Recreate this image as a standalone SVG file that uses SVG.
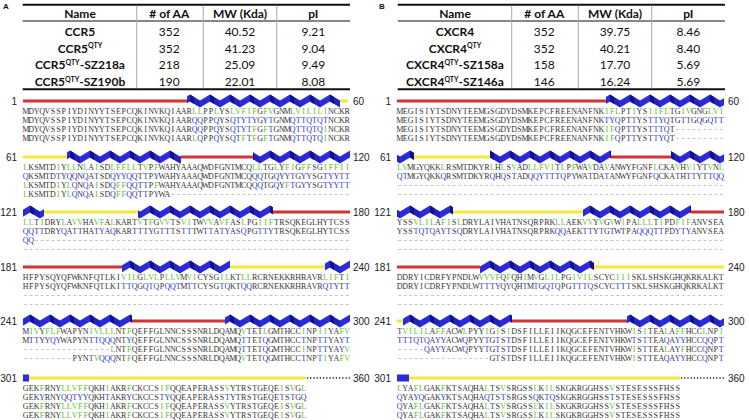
<svg xmlns="http://www.w3.org/2000/svg" width="749" height="420" viewBox="0 0 749 420">
<defs>
<style>
.tb{font-family:Lato,"Liberation Sans",sans-serif;font-size:12px;fill:#111;text-anchor:middle}
.bd{font-weight:bold}
.lab{font-family:"Liberation Sans",Arial,sans-serif;font-weight:bold;font-size:8px;fill:#111}
.num{font-family:"Liberation Sans",Arial,sans-serif;font-size:10px;fill:#222}
.ne{text-anchor:end}
.seq{font-family:"Liberation Serif","Times New Roman",serif;font-size:8px;fill:#333;text-anchor:middle}
.g{fill:#5cbf2a}
.b{fill:#3434c8}
.d{fill:#999}
.red{fill:#cf3434}
.yel{fill:#f3e936}
.hx{fill:url(#hx)}
.hb{fill:#2b2bd9}
.dl{stroke:#999;stroke-width:0.6;stroke-dasharray:2.7 2.75}
.dot{stroke:#111;stroke-width:1.5;stroke-dasharray:1.2 2}
.thick{stroke:#111;stroke-width:2}
.thin{stroke:#111;stroke-width:1}
.vs{stroke:#aaa;stroke-width:1}
</style>
<pattern id="hx" patternUnits="userSpaceOnUse" x="0" y="-7" width="20" height="14">
<polygon points="0,13.5 0,6.5 10,0.5 10,7.5" fill="#2b2bdc"/>
<polygon points="10,0.5 20,6.5 20,13.5 10,7.5" fill="#2222c0"/>
<polygon points="10,0.5 14,2.9 14,9.9 10,7.5" fill="#10108c"/>
</pattern>
</defs>
<rect width="749" height="420" fill="#fff"/>

<g id="tableA">
<text class="lab" x="3" y="8.5">A</text>
<line class="thick" x1="22.7" y1="4.7" x2="350" y2="4.7"/>
<line class="thin" x1="22.7" y1="21" x2="350" y2="21"/>
<line class="thick" x1="22.7" y1="89.3" x2="350" y2="89.3"/>
<line class="vs" x1="136.7" y1="5.7" x2="136.7" y2="88.3"/>
<line class="vs" x1="203.3" y1="5.7" x2="203.3" y2="88.3"/>
<line class="vs" x1="276.7" y1="5.7" x2="276.7" y2="88.3"/>
<text class="tb bd" x="80" y="18.3">Name</text>
<text class="tb bd" x="169.3" y="18.3"># of AA</text>
<text class="tb bd" x="240" y="18.3">MW (Kda)</text>
<text class="tb bd" x="313.3" y="18.3">pI</text>
<text class="tb bd" x="80" y="36">CCR5</text>
<text class="tb" x="169.3" y="36">352</text>
<text class="tb" x="240" y="36">40.52</text>
<text class="tb" x="313.3" y="36">9.21</text>
<text class="tb bd" x="80" y="52.7">CCR5<tspan font-size="7" dy="-4.5">QTY</tspan></text>
<text class="tb" x="169.3" y="52.7">352</text>
<text class="tb" x="240" y="52.7">41.23</text>
<text class="tb" x="313.3" y="52.7">9.04</text>
<text class="tb bd" x="80" y="69.3">CCR5<tspan font-size="7" dy="-4.5">QTY</tspan><tspan dy="4.5">-SZ218a</tspan></text>
<text class="tb" x="169.3" y="69.3">218</text>
<text class="tb" x="240" y="69.3">25.09</text>
<text class="tb" x="313.3" y="69.3">9.49</text>
<text class="tb bd" x="80" y="86">CCR5<tspan font-size="7" dy="-4.5">QTY</tspan><tspan dy="4.5">-SZ190b</tspan></text>
<text class="tb" x="169.3" y="86">190</text>
<text class="tb" x="240" y="86">22.01</text>
<text class="tb" x="313.3" y="86">8.08</text>
</g>

<g id="tableB">
<text class="lab" x="379" y="8.5">B</text>
<line class="thick" x1="397.7" y1="4.7" x2="725" y2="4.7"/>
<line class="thin" x1="397.7" y1="21" x2="725" y2="21"/>
<line class="thick" x1="397.7" y1="89.3" x2="725" y2="89.3"/>
<line class="vs" x1="511.7" y1="5.7" x2="511.7" y2="88.3"/>
<line class="vs" x1="578.3" y1="5.7" x2="578.3" y2="88.3"/>
<line class="vs" x1="651.7" y1="5.7" x2="651.7" y2="88.3"/>
<text class="tb bd" x="455" y="18.3">Name</text>
<text class="tb bd" x="544.3" y="18.3"># of AA</text>
<text class="tb bd" x="615" y="18.3">MW (Kda)</text>
<text class="tb bd" x="688.3" y="18.3">pI</text>
<text class="tb bd" x="455" y="36">CXCR4</text>
<text class="tb" x="544.3" y="36">352</text>
<text class="tb" x="615" y="36">39.75</text>
<text class="tb" x="688.3" y="36">8.46</text>
<text class="tb bd" x="455" y="52.7">CXCR4<tspan font-size="7" dy="-4.5">QTY</tspan></text>
<text class="tb" x="544.3" y="52.7">352</text>
<text class="tb" x="615" y="52.7">40.21</text>
<text class="tb" x="688.3" y="52.7">8.40</text>
<text class="tb bd" x="455" y="69.3">CXCR4<tspan font-size="7" dy="-4.5">QTY</tspan><tspan dy="4.5">-SZ158a</tspan></text>
<text class="tb" x="544.3" y="69.3">158</text>
<text class="tb" x="615" y="69.3">17.70</text>
<text class="tb" x="688.3" y="69.3">5.69</text>
<text class="tb bd" x="455" y="86">CXCR4<tspan font-size="7" dy="-4.5">QTY</tspan><tspan dy="4.5">-SZ146a</tspan></text>
<text class="tb" x="544.3" y="86">146</text>
<text class="tb" x="615" y="86">16.24</text>
<text class="tb" x="688.3" y="86">5.69</text>
</g>

<!-- CCR5 alignment -->
<g id="ccr5-1" transform="translate(0,101)">
<rect class="red" x="23" y="-1.5" width="164" height="3"/>
<rect class="hx" x="187" y="-7" width="153" height="14"/>
<rect class="yel" x="340" y="-1.5" width="8" height="3"/>
<text class="num ne" x="17" y="3.6">1</text>
<text class="num" x="353" y="3.6">60</text>
<g class="seq" transform="translate(25.7,0)">
<text y="12.7" x="0 5.45 10.9 16.35 21.8 27.25 32.7 38.15 43.6 49.05 54.5 59.95 65.4 70.85 76.3 81.75 87.2 92.65 98.1 103.55 109 114.45 119.9 125.35 130.8 136.25 141.7 147.15 152.6 158.05 163.5 168.95 174.4 179.85 185.3 190.75 196.2 201.65 207.1 212.55 218 223.45 228.9 234.35 239.8 245.25 250.7 256.15 261.6 267.05 272.5 277.95 283.4 288.85 294.3 299.75 305.2 310.65 316.1 321.55">MDYQVSSPIYDINYYTSEPCQKINVKQIAAR<tspan class="g">LL</tspan>PP<tspan class="g">L</tspan>YS<tspan class="g">LVFIF</tspan>G<tspan class="g">FV</tspan>GNM<tspan class="g">LVILILI</tspan>NCKR</text>
<text y="21.7" x="0 5.45 10.9 16.35 21.8 27.25 32.7 38.15 43.6 49.05 54.5 59.95 65.4 70.85 76.3 81.75 87.2 92.65 98.1 103.55 109 114.45 119.9 125.35 130.8 136.25 141.7 147.15 152.6 158.05 163.5 168.95 174.4 179.85 185.3 190.75 196.2 201.65 207.1 212.55 218 223.45 228.9 234.35 239.8 245.25 250.7 256.15 261.6 267.05 272.5 277.95 283.4 288.85 294.3 299.75 305.2 310.65 316.1 321.55">MDYQVSSPIYDINYYTSEPCQKINVKQIAAR<tspan class="b">QQ</tspan>PP<tspan class="b">Q</tspan>YS<tspan class="b">QTYTY</tspan>G<tspan class="b">YT</tspan>GNM<tspan class="b">QTTQTQT</tspan>NCKR</text>
<text y="30.7" x="0 5.45 10.9 16.35 21.8 27.25 32.7 38.15 43.6 49.05 54.5 59.95 65.4 70.85 76.3 81.75 87.2 92.65 98.1 103.55 109 114.45 119.9 125.35 130.8 136.25 141.7 147.15 152.6 158.05 163.5 168.95 174.4 179.85 185.3 190.75 196.2 201.65 207.1 212.55 218 223.45 228.9 234.35 239.8 245.25 250.7 256.15 261.6 267.05 272.5 277.95 283.4 288.85 294.3 299.75 305.2 310.65 316.1 321.55">MDYQVSSPIYDINYYTSEPCQKINVKQIAAR<tspan class="b">QQ</tspan>PP<tspan class="b">Q</tspan>YS<tspan class="b">QTYT</tspan><tspan class="g">F</tspan>G<tspan class="g">F</tspan><tspan class="b">T</tspan>GNM<tspan class="b">QTTQTQ</tspan><tspan class="g">I</tspan>NCKR</text>
<text y="39.7" x="0 5.45 10.9 16.35 21.8 27.25 32.7 38.15 43.6 49.05 54.5 59.95 65.4 70.85 76.3 81.75 87.2 92.65 98.1 103.55 109 114.45 119.9 125.35 130.8 136.25 141.7 147.15 152.6 158.05 163.5 168.95 174.4 179.85 185.3 190.75 196.2 201.65 207.1 212.55 218 223.45 228.9 234.35 239.8 245.25 250.7 256.15 261.6 267.05 272.5 277.95 283.4 288.85 294.3 299.75 305.2 310.65 316.1 321.55">MDYQVSSPIYDINYYTSEPCQKINVKQIAAR<tspan class="g">L</tspan><tspan class="b">Q</tspan>PP<tspan class="b">Q</tspan>YS<tspan class="b">QT</tspan><tspan class="g">F</tspan><tspan class="b">T</tspan><tspan class="g">F</tspan>G<tspan class="g">F</tspan><tspan class="b">T</tspan>GNM<tspan class="b">QTTQTQ</tspan><tspan class="g">I</tspan>NCKR</text>
</g>
</g>

<g id="ccr5-2" transform="translate(0,157)">
<rect class="yel" x="23" y="-1.5" width="44" height="3"/>
<rect class="hx" x="67" y="-7" width="114" height="14"/>
<rect class="red" x="181" y="-1.5" width="72" height="3"/>
<rect class="hx" x="253" y="-7" width="97" height="14"/>
<text class="num ne" x="17" y="3.6">61</text>
<text class="num" x="353" y="3.6">120</text>
<g class="seq" transform="translate(25.7,0)">
<text y="12.7" x="0 5.45 10.9 16.35 21.8 27.25 32.7 38.15 43.6 49.05 54.5 59.95 65.4 70.85 76.3 81.75 87.2 92.65 98.1 103.55 109 114.45 119.9 125.35 130.8 136.25 141.7 147.15 152.6 158.05 163.5 168.95 174.4 179.85 185.3 190.75 196.2 201.65 207.1 212.55 218 223.45 228.9 234.35 239.8 245.25 250.7 256.15 261.6 267.05 272.5 277.95 283.4 288.85 294.3 299.75 305.2 310.65 316.1 321.55"><tspan class="g">L</tspan>KSMTD<tspan class="g">I</tspan>Y<tspan class="g">LL</tspan>N<tspan class="g">L</tspan>A<tspan class="g">I</tspan>SD<tspan class="g">LFFLL</tspan>T<tspan class="g">V</tspan>P<tspan class="g">F</tspan>WAHYAAAQWDFGNTMCQ<tspan class="g">LL</tspan>TG<tspan class="g">L</tspan>Y<tspan class="g">FI</tspan>G<tspan class="g">FF</tspan>SG<tspan class="g">IFFII</tspan></text>
<text y="21.7" x="0 5.45 10.9 16.35 21.8 27.25 32.7 38.15 43.6 49.05 54.5 59.95 65.4 70.85 76.3 81.75 87.2 92.65 98.1 103.55 109 114.45 119.9 125.35 130.8 136.25 141.7 147.15 152.6 158.05 163.5 168.95 174.4 179.85 185.3 190.75 196.2 201.65 207.1 212.55 218 223.45 228.9 234.35 239.8 245.25 250.7 256.15 261.6 267.05 272.5 277.95 283.4 288.85 294.3 299.75 305.2 310.65 316.1 321.55"><tspan class="b">Q</tspan>KSMTD<tspan class="b">T</tspan>Y<tspan class="b">QQ</tspan>N<tspan class="b">Q</tspan>A<tspan class="b">T</tspan>SD<tspan class="b">QYYQQ</tspan>T<tspan class="b">T</tspan>P<tspan class="b">Y</tspan>WAHYAAAQWDFGNTMCQ<tspan class="b">QQ</tspan>TG<tspan class="b">Q</tspan>Y<tspan class="b">YT</tspan>G<tspan class="b">YY</tspan>SG<tspan class="b">TYYTT</tspan></text>
<text y="30.7" x="0 5.45 10.9 16.35 21.8 27.25 32.7 38.15 43.6 49.05 54.5 59.95 65.4 70.85 76.3 81.75 87.2 92.65 98.1 103.55 109 114.45 119.9 125.35 130.8 136.25 141.7 147.15 152.6 158.05 163.5 168.95 174.4 179.85 185.3 190.75 196.2 201.65 207.1 212.55 218 223.45 228.9 234.35 239.8 245.25 250.7 256.15 261.6 267.05 272.5 277.95 283.4 288.85 294.3 299.75 305.2 310.65 316.1 321.55"><tspan class="g">L</tspan>KSMTD<tspan class="g">I</tspan>Y<tspan class="g">L</tspan><tspan class="b">Q</tspan>N<tspan class="b">Q</tspan>A<tspan class="g">I</tspan>SD<tspan class="b">Q</tspan><tspan class="g">FF</tspan><tspan class="b">QQ</tspan>T<tspan class="b">T</tspan>P<tspan class="g">F</tspan>WAHYAAAQWDFGNTMCQ<tspan class="b">QQ</tspan>TG<tspan class="b">Q</tspan>Y<tspan class="g">F</tspan><tspan class="b">T</tspan>G<tspan class="b">YY</tspan>SG<tspan class="b">TYYTT</tspan></text>
<text y="39.7" x="0 5.45 10.9 16.35 21.8 27.25 32.7 38.15 43.6 49.05 54.5 59.95 65.4 70.85 76.3 81.75 87.2 92.65 98.1 103.55 109 114.45 119.9 125.35 130.8 136.25 141.7 147.15"><tspan class="g">L</tspan>KSMTD<tspan class="g">I</tspan>Y<tspan class="g">L</tspan><tspan class="b">Q</tspan>N<tspan class="b">Q</tspan>A<tspan class="g">I</tspan>SD<tspan class="b">Q</tspan><tspan class="g">FF</tspan><tspan class="b">QQ</tspan>T<tspan class="b">T</tspan>P<tspan class="b">Y</tspan>WA</text>
<line class="dl" x1="145.8" y1="37.5" x2="322.9" y2="37.5"/>
</g>
</g>

<g id="ccr5-3" transform="translate(0,212)">
<rect class="hx" x="23" y="-7" width="21" height="14"/>
<rect class="yel" x="44" y="-1.5" width="94" height="3"/>
<rect class="hx" x="138" y="-7" width="135" height="14"/>
<rect class="red" x="273" y="-1.5" width="77" height="3"/>
<text class="num ne" x="17" y="3.6">121</text>
<text class="num" x="353" y="3.6">180</text>
<g class="seq" transform="translate(25.7,0)">
<text y="12.7" x="0 5.45 10.9 16.35 21.8 27.25 32.7 38.15 43.6 49.05 54.5 59.95 65.4 70.85 76.3 81.75 87.2 92.65 98.1 103.55 109 114.45 119.9 125.35 130.8 136.25 141.7 147.15 152.6 158.05 163.5 168.95 174.4 179.85 185.3 190.75 196.2 201.65 207.1 212.55 218 223.45 228.9 234.35 239.8 245.25 250.7 256.15 261.6 267.05 272.5 277.95 283.4 288.85 294.3 299.75 305.2 310.65 316.1 321.55"><tspan class="g">LL</tspan>T<tspan class="g">I</tspan>DRY<tspan class="g">L</tspan>A<tspan class="g">VV</tspan>HA<tspan class="g">VF</tspan>A<tspan class="g">L</tspan>KART<tspan class="g">V</tspan>T<tspan class="g">F</tspan>G<tspan class="g">VV</tspan>TS<tspan class="g">VI</tspan>TW<tspan class="g">VV</tspan>A<tspan class="g">VF</tspan>AS<tspan class="g">L</tspan>PG<tspan class="g">IIF</tspan>TRSQKEGLHYTCSS</text>
<text y="21.7" x="0 5.45 10.9 16.35 21.8 27.25 32.7 38.15 43.6 49.05 54.5 59.95 65.4 70.85 76.3 81.75 87.2 92.65 98.1 103.55 109 114.45 119.9 125.35 130.8 136.25 141.7 147.15 152.6 158.05 163.5 168.95 174.4 179.85 185.3 190.75 196.2 201.65 207.1 212.55 218 223.45 228.9 234.35 239.8 245.25 250.7 256.15 261.6 267.05 272.5 277.95 283.4 288.85 294.3 299.75 305.2 310.65 316.1 321.55"><tspan class="b">QQ</tspan>T<tspan class="b">T</tspan>DRY<tspan class="b">Q</tspan>A<tspan class="b">TT</tspan>HA<tspan class="b">TY</tspan>A<tspan class="b">Q</tspan>KART<tspan class="b">T</tspan>T<tspan class="b">Y</tspan>G<tspan class="b">TT</tspan>TS<tspan class="b">TT</tspan>TW<tspan class="b">TT</tspan>A<tspan class="b">TY</tspan>AS<tspan class="b">Q</tspan>PG<tspan class="b">TTY</tspan>TRSQKEGLHYTCSS</text>
<text y="30.7" x="0 5.45" class="b">QQ</text>
<line class="dl" x1="9.55" y1="28.5" x2="322.9" y2="28.5"/>
<line class="dl" x1="-1.35" y1="37.5" x2="322.9" y2="37.5"/>
</g>
</g>

<g id="ccr5-4" transform="translate(0,267)">
<rect class="red" x="23" y="-1.5" width="99" height="3"/>
<rect class="hx" x="122" y="-7" width="108" height="14"/>
<rect class="yel" x="230" y="-1.5" width="95" height="3"/>
<rect class="hx" x="325" y="-7" width="25" height="14"/>
<text class="num ne" x="17" y="3.6">181</text>
<text class="num" x="353" y="3.6">240</text>
<g class="seq" transform="translate(25.7,0)">
<text y="12.7" x="0 5.45 10.9 16.35 21.8 27.25 32.7 38.15 43.6 49.05 54.5 59.95 65.4 70.85 76.3 81.75 87.2 92.65 98.1 103.55 109 114.45 119.9 125.35 130.8 136.25 141.7 147.15 152.6 158.05 163.5 168.95 174.4 179.85 185.3 190.75 196.2 201.65 207.1 212.55 218 223.45 228.9 234.35 239.8 245.25 250.7 256.15 261.6 267.05 272.5 277.95 283.4 288.85 294.3 299.75 305.2 310.65 316.1 321.55">HFPYSQYQFWKNFQTLKI<tspan class="g">VIL</tspan>G<tspan class="g">LVL</tspan>P<tspan class="g">LLV</tspan>M<tspan class="g">VI</tspan>CYSG<tspan class="g">IL</tspan>KT<tspan class="g">LL</tspan>RCRNEKKRHRAVR<tspan class="g">LIF</tspan>T<tspan class="g">I</tspan></text>
<text y="21.7" x="0 5.45 10.9 16.35 21.8 27.25 32.7 38.15 43.6 49.05 54.5 59.95 65.4 70.85 76.3 81.75 87.2 92.65 98.1 103.55 109 114.45 119.9 125.35 130.8 136.25 141.7 147.15 152.6 158.05 163.5 168.95 174.4 179.85 185.3 190.75 196.2 201.65 207.1 212.55 218 223.45 228.9 234.35 239.8 245.25 250.7 256.15 261.6 267.05 272.5 277.95 283.4 288.85 294.3 299.75 305.2 310.65 316.1 321.55">HFPYSQYQFWKNFQTLKI<tspan class="b">TTQ</tspan>G<tspan class="b">QTQ</tspan>P<tspan class="b">QQT</tspan>M<tspan class="b">TT</tspan>CYSG<tspan class="b">TQ</tspan>KT<tspan class="b">QQ</tspan>RCRNEKKRHRAVR<tspan class="b">QTY</tspan>T<tspan class="b">T</tspan></text>
<line class="dl" x1="-1.35" y1="28.5" x2="322.9" y2="28.5"/>
<line class="dl" x1="-1.35" y1="37.5" x2="322.9" y2="37.5"/>
</g>
</g>

<g id="ccr5-5" transform="translate(0,321)">
<rect class="hx" x="23" y="-7" width="109" height="14"/>
<rect class="red" x="132" y="-1.5" width="93" height="3"/>
<rect class="hx" x="225" y="-7" width="125" height="14"/>
<text class="num ne" x="17" y="3.6">241</text>
<text class="num" x="353" y="3.6">300</text>
<g class="seq" transform="translate(25.7,0)">
<text y="12.7" x="0 5.45 10.9 16.35 21.8 27.25 32.7 38.15 43.6 49.05 54.5 59.95 65.4 70.85 76.3 81.75 87.2 92.65 98.1 103.55 109 114.45 119.9 125.35 130.8 136.25 141.7 147.15 152.6 158.05 163.5 168.95 174.4 179.85 185.3 190.75 196.2 201.65 207.1 212.55 218 223.45 228.9 234.35 239.8 245.25 250.7 256.15 261.6 267.05 272.5 277.95 283.4 288.85 294.3 299.75 305.2 310.65 316.1 321.55">M<tspan class="g">IV</tspan>Y<tspan class="g">FLF</tspan>WAPYN<tspan class="g">IVLLL</tspan>NT<tspan class="g">F</tspan>QEFFGLNNCSSSNRLDQAMQ<tspan class="g">V</tspan>TET<tspan class="g">L</tspan>GMTHCC<tspan class="g">I</tspan>NP<tspan class="g">II</tspan>YA<tspan class="g">FV</tspan></text>
<text y="21.7" x="0 5.45 10.9 16.35 21.8 27.25 32.7 38.15 43.6 49.05 54.5 59.95 65.4 70.85 76.3 81.75 87.2 92.65 98.1 103.55 109 114.45 119.9 125.35 130.8 136.25 141.7 147.15 152.6 158.05 163.5 168.95 174.4 179.85 185.3 190.75 196.2 201.65 207.1 212.55 218 223.45 228.9 234.35 239.8 245.25 250.7 256.15 261.6 267.05 272.5 277.95 283.4 288.85 294.3 299.75 305.2 310.65 316.1 321.55">M<tspan class="b">TT</tspan>Y<tspan class="b">YQY</tspan>WAPYN<tspan class="b">TTQQQ</tspan>NT<tspan class="b">Y</tspan>QEFFGLNNCSSSNRLDQAMQ<tspan class="b">T</tspan>TET<tspan class="b">Q</tspan>GMTHCC<tspan class="b">T</tspan>NP<tspan class="b">TT</tspan>YA<tspan class="b">YT</tspan></text>
<text y="30.7" x="0 5.45 10.9 16.35 21.8 27.25 32.7 38.15 43.6 49.05 54.5 59.95 65.4 70.85 76.3 81.75 87.2 92.65 98.1 103.55 109 114.45 119.9 125.35 130.8 136.25 141.7 147.15 152.6 158.05 163.5 168.95 174.4 179.85 185.3 190.75 196.2 201.65 207.1 212.55 218 223.45 228.9 234.35 239.8 245.25 250.7 256.15 261.6 267.05 272.5 277.95 283.4 288.85 294.3 299.75 305.2 310.65 316.1 321.55"><tspan class="d">----------------</tspan><tspan class="g">L</tspan>NT<tspan class="g">F</tspan>QEFFGLNNCSSSNRLDQAMQ<tspan class="b">T</tspan>TET<tspan class="b">Q</tspan>GMTHCC<tspan class="g">I</tspan>NP<tspan class="b">TT</tspan>YA<tspan class="b">Y</tspan><tspan class="g">V</tspan></text>
<text y="39.7" x="0 5.45 10.9 16.35 21.8 27.25 32.7 38.15 43.6 49.05 54.5 59.95 65.4 70.85 76.3 81.75 87.2 92.65 98.1 103.55 109 114.45 119.9 125.35 130.8 136.25 141.7 147.15 152.6 158.05 163.5 168.95 174.4 179.85 185.3 190.75 196.2 201.65 207.1 212.55 218 223.45 228.9 234.35 239.8 245.25 250.7 256.15 261.6 267.05 272.5 277.95 283.4 288.85 294.3 299.75 305.2 310.65 316.1 321.55"><tspan class="d">---------</tspan>PYN<tspan class="b">T</tspan><tspan class="g">V</tspan><tspan class="b">QQQ</tspan>NT<tspan class="g">F</tspan>QEFFGLNNCSSSNRLDQAMQ<tspan class="g">V</tspan>TET<tspan class="b">Q</tspan>GMTHCC<tspan class="b">T</tspan>NP<tspan class="b">T</tspan><tspan class="g">I</tspan>YA<tspan class="g">FV</tspan></text>
</g>
</g>

<g id="ccr5-6" transform="translate(0,378)">
<rect class="hb" x="23" y="-3.5" width="6" height="7"/>
<rect class="yel" x="29" y="-1.5" width="277" height="3"/>
<line class="dot" x1="307" y1="0" x2="350" y2="0"/>
<text class="num ne" x="17" y="3.6">301</text>
<text class="num" x="353" y="3.6">360</text>
<g class="seq" transform="translate(25.7,0)">
<text y="12.7" x="0 5.45 10.9 16.35 21.8 27.25 32.7 38.15 43.6 49.05 54.5 59.95 65.4 70.85 76.3 81.75 87.2 92.65 98.1 103.55 109 114.45 119.9 125.35 130.8 136.25 141.7 147.15 152.6 158.05 163.5 168.95 174.4 179.85 185.3 190.75 196.2 201.65 207.1 212.55 218 223.45 228.9 234.35 239.8 245.25 250.7 256.15 261.6 267.05 272.5 277.95 283.4 288.85">GEK<tspan class="g">F</tspan>RNY<tspan class="g">LLVFF</tspan>QKH<tspan class="g">I</tspan>AKR<tspan class="g">F</tspan>CKCCS<tspan class="g">IF</tspan>QQEAPERASS<tspan class="g">V</tspan>YTRSTGEQE<tspan class="g">I</tspan>S<tspan class="g">V</tspan>G<tspan class="g">L</tspan></text>
<text y="21.7" x="0 5.45 10.9 16.35 21.8 27.25 32.7 38.15 43.6 49.05 54.5 59.95 65.4 70.85 76.3 81.75 87.2 92.65 98.1 103.55 109 114.45 119.9 125.35 130.8 136.25 141.7 147.15 152.6 158.05 163.5 168.95 174.4 179.85 185.3 190.75 196.2 201.65 207.1 212.55 218 223.45 228.9 234.35 239.8 245.25 250.7 256.15 261.6 267.05 272.5 277.95 283.4 288.85">GEK<tspan class="b">Y</tspan>RNY<tspan class="b">QQTYY</tspan>QKH<tspan class="b">T</tspan>AKR<tspan class="b">Y</tspan>CKCCS<tspan class="b">TY</tspan>QQEAPERASS<tspan class="b">T</tspan>YTRSTGEQE<tspan class="b">T</tspan>S<tspan class="b">T</tspan>G<tspan class="b">Q</tspan></text>
<text y="30.7" x="0 5.45 10.9 16.35 21.8 27.25 32.7 38.15 43.6 49.05 54.5 59.95 65.4 70.85 76.3 81.75 87.2 92.65 98.1 103.55 109 114.45 119.9 125.35 130.8 136.25 141.7 147.15 152.6 158.05 163.5 168.95 174.4 179.85 185.3 190.75 196.2 201.65 207.1 212.55 218 223.45 228.9 234.35 239.8 245.25 250.7 256.15 261.6 267.05 272.5 277.95 283.4 288.85">GEK<tspan class="g">F</tspan>RNY<tspan class="g">LLVFF</tspan>QKH<tspan class="g">I</tspan>AKR<tspan class="g">F</tspan>CKCCS<tspan class="g">IF</tspan>QQEAPERASS<tspan class="g">V</tspan>YTRSTGEQE<tspan class="g">I</tspan>S<tspan class="g">V</tspan>G<tspan class="g">L</tspan></text>
<text y="39.7" x="0 5.45 10.9 16.35 21.8 27.25 32.7 38.15 43.6 49.05 54.5 59.95 65.4 70.85 76.3 81.75 87.2 92.65 98.1 103.55 109 114.45 119.9 125.35 130.8 136.25 141.7 147.15 152.6 158.05 163.5 168.95 174.4 179.85 185.3 190.75 196.2 201.65 207.1 212.55 218 223.45 228.9 234.35 239.8 245.25 250.7 256.15 261.6 267.05 272.5 277.95 283.4 288.85">GEK<tspan class="g">F</tspan>RNY<tspan class="g">LLVFF</tspan>QKH<tspan class="g">I</tspan>AKR<tspan class="g">F</tspan>CKCCS<tspan class="g">IF</tspan>QQEAPERASS<tspan class="g">V</tspan>YTRSTGEQE<tspan class="g">I</tspan>S<tspan class="g">V</tspan>G<tspan class="g">L</tspan></text>
</g>
</g>

<!-- CXCR4 alignment -->
<g id="cxcr4-1" transform="translate(0,101)">
<rect class="red" x="397" y="-1.5" width="209" height="3"/>
<rect class="hx" x="606" y="-7" width="118" height="14"/>
<text class="num ne" x="391" y="3.6">1</text>
<text class="num" x="728" y="3.6">60</text>
<g class="seq" transform="translate(399.7,0)">
<text y="12.7" x="0 5.45 10.9 16.35 21.8 27.25 32.7 38.15 43.6 49.05 54.5 59.95 65.4 70.85 76.3 81.75 87.2 92.65 98.1 103.55 109 114.45 119.9 125.35 130.8 136.25 141.7 147.15 152.6 158.05 163.5 168.95 174.4 179.85 185.3 190.75 196.2 201.65 207.1 212.55 218 223.45 228.9 234.35 239.8 245.25 250.7 256.15 261.6 267.05 272.5 277.95 283.4 288.85 294.3 299.75 305.2 310.65 316.1 321.55">MEGISIYTSDNYTEEMGSGDYDSMKEPCFREENANFNK<tspan class="g">IFL</tspan>PT<tspan class="g">I</tspan>YS<tspan class="g">IIFL</tspan>TG<tspan class="g">IV</tspan>GNG<tspan class="g">LVI</tspan></text>
<text y="21.7" x="0 5.45 10.9 16.35 21.8 27.25 32.7 38.15 43.6 49.05 54.5 59.95 65.4 70.85 76.3 81.75 87.2 92.65 98.1 103.55 109 114.45 119.9 125.35 130.8 136.25 141.7 147.15 152.6 158.05 163.5 168.95 174.4 179.85 185.3 190.75 196.2 201.65 207.1 212.55 218 223.45 228.9 234.35 239.8 245.25 250.7 256.15 261.6 267.05 272.5 277.95 283.4 288.85 294.3 299.75 305.2 310.65 316.1 321.55">MEGISIYTSDNYTEEMGSGDYDSMKEPCFREENANFNK<tspan class="b">TYQ</tspan>PT<tspan class="b">T</tspan>YS<tspan class="b">TTYQ</tspan>TG<tspan class="b">TT</tspan>G<tspan class="b">Q</tspan>G<tspan class="b">QTT</tspan></text>
<text y="30.7" x="0 5.45 10.9 16.35 21.8 27.25 32.7 38.15 43.6 49.05 54.5 59.95 65.4 70.85 76.3 81.75 87.2 92.65 98.1 103.55 109 114.45 119.9 125.35 130.8 136.25 141.7 147.15 152.6 158.05 163.5 168.95 174.4 179.85 185.3 190.75 196.2 201.65 207.1 212.55 218 223.45 228.9 234.35 239.8 245.25 250.7 256.15 261.6 267.05 272.5 277.95 283.4 288.85 294.3 299.75 305.2 310.65 316.1 321.55">MEGISIYTSDNYTEEMGSGDYDSMKEPCFREENANFNK<tspan class="g">IF</tspan><tspan class="b">Q</tspan>PT<tspan class="b">T</tspan>YS<tspan class="b">TTTQ</tspan>T<tspan class="d">---------</tspan></text>
<text y="39.7" x="0 5.45 10.9 16.35 21.8 27.25 32.7 38.15 43.6 49.05 54.5 59.95 65.4 70.85 76.3 81.75 87.2 92.65 98.1 103.55 109 114.45 119.9 125.35 130.8 136.25 141.7 147.15 152.6 158.05 163.5 168.95 174.4 179.85 185.3 190.75 196.2 201.65 207.1 212.55 218 223.45 228.9 234.35 239.8 245.25 250.7 256.15 261.6 267.05 272.5 277.95 283.4 288.85 294.3 299.75 305.2 310.65 316.1 321.55">MEGISIYTSDNYTEEMGSGDYDSMKEPCFREENANFNK<tspan class="g">IF</tspan><tspan class="b">Q</tspan>PT<tspan class="b">T</tspan>YS<tspan class="b">TTYQ</tspan>T<tspan class="d">---------</tspan></text>
</g>
</g>

<g id="cxcr4-2" transform="translate(0,157)">
<rect class="hx" x="397" y="-7" width="17" height="14"/>
<rect class="yel" x="414" y="-1.5" width="76" height="3"/>
<rect class="hx" x="490" y="-7" width="121" height="14"/>
<rect class="red" x="611" y="-1.5" width="60" height="3"/>
<rect class="hx" x="671" y="-7" width="53" height="14"/>
<text class="num ne" x="391" y="3.6">61</text>
<text class="num" x="728" y="3.6">120</text>
<g class="seq" transform="translate(399.7,0)">
<text y="12.7" x="0 5.45 10.9 16.35 21.8 27.25 32.7 38.15 43.6 49.05 54.5 59.95 65.4 70.85 76.3 81.75 87.2 92.65 98.1 103.55 109 114.45 119.9 125.35 130.8 136.25 141.7 147.15 152.6 158.05 163.5 168.95 174.4 179.85 185.3 190.75 196.2 201.65 207.1 212.55 218 223.45 228.9 234.35 239.8 245.25 250.7 256.15 261.6 267.05 272.5 277.95 283.4 288.85 294.3 299.75 305.2 310.65 316.1 321.55"><tspan class="g">LV</tspan>MGYQKK<tspan class="g">L</tspan>RSMTDKYR<tspan class="g">L</tspan>H<tspan class="g">L</tspan>S<tspan class="g">V</tspan>AD<tspan class="g">LLFVI</tspan>T<tspan class="g">L</tspan>P<tspan class="g">F</tspan>WA<tspan class="g">V</tspan>DA<tspan class="g">V</tspan>ANWYFGNF<tspan class="g">L</tspan>CKA<tspan class="g">V</tspan>H<tspan class="g">VI</tspan>YT<tspan class="g">V</tspan>N<tspan class="g">L</tspan></text>
<text y="21.7" x="0 5.45 10.9 16.35 21.8 27.25 32.7 38.15 43.6 49.05 54.5 59.95 65.4 70.85 76.3 81.75 87.2 92.65 98.1 103.55 109 114.45 119.9 125.35 130.8 136.25 141.7 147.15 152.6 158.05 163.5 168.95 174.4 179.85 185.3 190.75 196.2 201.65 207.1 212.55 218 223.45 228.9 234.35 239.8 245.25 250.7 256.15 261.6 267.05 272.5 277.95 283.4 288.85 294.3 299.75 305.2 310.65 316.1 321.55"><tspan class="b">QT</tspan>MGYQKK<tspan class="b">Q</tspan>RSMTDKYR<tspan class="b">Q</tspan>H<tspan class="b">Q</tspan>S<tspan class="b">T</tspan>AD<tspan class="b">QQYTT</tspan>T<tspan class="b">Q</tspan>P<tspan class="b">Y</tspan>WA<tspan class="b">T</tspan>DA<tspan class="b">T</tspan>ANWYFGNF<tspan class="b">Q</tspan>CKA<tspan class="b">T</tspan>H<tspan class="b">TT</tspan>YT<tspan class="b">TQQ</tspan></text>
<line class="dl" x1="-1.35" y1="28.5" x2="322.9" y2="28.5"/>
<line class="dl" x1="-1.35" y1="37.5" x2="322.9" y2="37.5"/>
</g>
</g>

<g id="cxcr4-3" transform="translate(0,212)">
<rect class="hx" x="397" y="-7" width="56" height="14"/>
<rect class="yel" x="453" y="-1.5" width="130" height="3"/>
<rect class="hx" x="583" y="-7" width="108" height="14"/>
<rect class="red" x="691" y="-1.5" width="33" height="3"/>
<text class="num ne" x="391" y="3.6">121</text>
<text class="num" x="728" y="3.6">180</text>
<g class="seq" transform="translate(399.7,0)">
<text y="12.7" x="0 5.45 10.9 16.35 21.8 27.25 32.7 38.15 43.6 49.05 54.5 59.95 65.4 70.85 76.3 81.75 87.2 92.65 98.1 103.55 109 114.45 119.9 125.35 130.8 136.25 141.7 147.15 152.6 158.05 163.5 168.95 174.4 179.85 185.3 190.75 196.2 201.65 207.1 212.55 218 223.45 228.9 234.35 239.8 245.25 250.7 256.15 261.6 267.05 272.5 277.95 283.4 288.85 294.3 299.75 305.2 310.65 316.1 321.55">YSS<tspan class="g">VLIL</tspan>A<tspan class="g">FI</tspan>S<tspan class="g">L</tspan>DRYLAIVHATNSQRPRK<tspan class="g">LL</tspan>AEK<tspan class="g">VV</tspan>Y<tspan class="g">V</tspan>G<tspan class="g">V</tspan>W<tspan class="g">I</tspan>PA<tspan class="g">LLL</tspan>T<tspan class="g">I</tspan>PD<tspan class="g">FIF</tspan>ANVSEA</text>
<text y="21.7" x="0 5.45 10.9 16.35 21.8 27.25 32.7 38.15 43.6 49.05 54.5 59.95 65.4 70.85 76.3 81.75 87.2 92.65 98.1 103.55 109 114.45 119.9 125.35 130.8 136.25 141.7 147.15 152.6 158.05 163.5 168.95 174.4 179.85 185.3 190.75 196.2 201.65 207.1 212.55 218 223.45 228.9 234.35 239.8 245.25 250.7 256.15 261.6 267.05 272.5 277.95 283.4 288.85 294.3 299.75 305.2 310.65 316.1 321.55">YSS<tspan class="b">TQTQ</tspan>A<tspan class="b">YT</tspan>S<tspan class="b">Q</tspan>DRYLAIVHATNSQRPRK<tspan class="b">QQ</tspan>AEK<tspan class="b">TT</tspan>Y<tspan class="b">T</tspan>G<tspan class="b">T</tspan>W<tspan class="b">T</tspan>PA<tspan class="b">QQQ</tspan>T<tspan class="b">T</tspan>PD<tspan class="b">YTY</tspan>ANVSEA</text>
<line class="dl" x1="-1.35" y1="28.5" x2="322.9" y2="28.5"/>
<line class="dl" x1="-1.35" y1="37.5" x2="322.9" y2="37.5"/>
</g>
</g>

<g id="cxcr4-4" transform="translate(0,267)">
<rect class="red" x="397" y="-1.5" width="83" height="3"/>
<rect class="hx" x="480" y="-7" width="114" height="14"/>
<rect class="yel" x="594" y="-1.5" width="130" height="3"/>
<text class="num ne" x="391" y="3.6">181</text>
<text class="num" x="728" y="3.6">240</text>
<g class="seq" transform="translate(399.7,0)">
<text y="12.7" x="0 5.45 10.9 16.35 21.8 27.25 32.7 38.15 43.6 49.05 54.5 59.95 65.4 70.85 76.3 81.75 87.2 92.65 98.1 103.55 109 114.45 119.9 125.35 130.8 136.25 141.7 147.15 152.6 158.05 163.5 168.95 174.4 179.85 185.3 190.75 196.2 201.65 207.1 212.55 218 223.45 228.9 234.35 239.8 245.25 250.7 256.15 261.6 267.05 272.5 277.95 283.4 288.85 294.3 299.75 305.2 310.65 316.1 321.55">DDRYICDRFYPNDLW<tspan class="g">VVVF</tspan>Q<tspan class="g">F</tspan>QH<tspan class="g">I</tspan>M<tspan class="g">V</tspan>G<tspan class="g">LIL</tspan>PG<tspan class="g">IVIL</tspan>SCYC<tspan class="g">III</tspan>SKLSHSKGHQKRKALKT</text>
<text y="21.7" x="0 5.45 10.9 16.35 21.8 27.25 32.7 38.15 43.6 49.05 54.5 59.95 65.4 70.85 76.3 81.75 87.2 92.65 98.1 103.55 109 114.45 119.9 125.35 130.8 136.25 141.7 147.15 152.6 158.05 163.5 168.95 174.4 179.85 185.3 190.75 196.2 201.65 207.1 212.55 218 223.45 228.9 234.35 239.8 245.25 250.7 256.15 261.6 267.05 272.5 277.95 283.4 288.85 294.3 299.75 305.2 310.65 316.1 321.55">DDRYICDRFYPNDLW<tspan class="b">TTTY</tspan>Q<tspan class="b">Y</tspan>QH<tspan class="b">T</tspan>M<tspan class="b">T</tspan>G<tspan class="b">QTQ</tspan>PG<tspan class="b">TTTQ</tspan>SCYC<tspan class="b">TTT</tspan>SKLSHSKGHQKRKALKT</text>
<line class="dl" x1="-1.35" y1="28.5" x2="322.9" y2="28.5"/>
<line class="dl" x1="-1.35" y1="37.5" x2="322.9" y2="37.5"/>
</g>
</g>

<g id="cxcr4-5" transform="translate(0,321)">
<rect class="yel" x="397" y="-1.5" width="6" height="3"/>
<rect class="hx" x="403" y="-7" width="109" height="14"/>
<rect class="red" x="512" y="-1.5" width="115" height="3"/>
<rect class="hx" x="627" y="-7" width="97" height="14"/>
<text class="num ne" x="391" y="3.6">241</text>
<text class="num" x="728" y="3.6">300</text>
<g class="seq" transform="translate(399.7,0)">
<text y="12.7" x="0 5.45 10.9 16.35 21.8 27.25 32.7 38.15 43.6 49.05 54.5 59.95 65.4 70.85 76.3 81.75 87.2 92.65 98.1 103.55 109 114.45 119.9 125.35 130.8 136.25 141.7 147.15 152.6 158.05 163.5 168.95 174.4 179.85 185.3 190.75 196.2 201.65 207.1 212.55 218 223.45 228.9 234.35 239.8 245.25 250.7 256.15 261.6 267.05 272.5 277.95 283.4 288.85 294.3 299.75 305.2 310.65 316.1 321.55">T<tspan class="g">VILIL</tspan>A<tspan class="g">FF</tspan>ACW<tspan class="g">L</tspan>PYY<tspan class="g">I</tspan>G<tspan class="g">I</tspan>S<tspan class="g">I</tspan>DSFILLEIIKQGCEFENTVHKW<tspan class="g">I</tspan>S<tspan class="g">I</tspan>TEA<tspan class="g">L</tspan>A<tspan class="g">FF</tspan>HCC<tspan class="g">L</tspan>NP<tspan class="g">I</tspan></text>
<text y="21.7" x="0 5.45 10.9 16.35 21.8 27.25 32.7 38.15 43.6 49.05 54.5 59.95 65.4 70.85 76.3 81.75 87.2 92.65 98.1 103.55 109 114.45 119.9 125.35 130.8 136.25 141.7 147.15 152.6 158.05 163.5 168.95 174.4 179.85 185.3 190.75 196.2 201.65 207.1 212.55 218 223.45 228.9 234.35 239.8 245.25 250.7 256.15 261.6 267.05 272.5 277.95 283.4 288.85 294.3 299.75 305.2 310.65 316.1 321.55">T<tspan class="b">TTQTQ</tspan>A<tspan class="b">YY</tspan>ACW<tspan class="b">Q</tspan>PYY<tspan class="b">T</tspan>G<tspan class="b">T</tspan>S<tspan class="b">T</tspan>DSFILLEIIKQGCEFENTVHKW<tspan class="b">T</tspan>S<tspan class="b">T</tspan>TEA<tspan class="b">Q</tspan>A<tspan class="b">YY</tspan>HCC<tspan class="b">QQ</tspan>P<tspan class="b">T</tspan></text>
<text y="30.7" x="0 5.45 10.9 16.35 21.8 27.25 32.7 38.15 43.6 49.05 54.5 59.95 65.4 70.85 76.3 81.75 87.2 92.65 98.1 103.55 109 114.45 119.9 125.35 130.8 136.25 141.7 147.15 152.6 158.05 163.5 168.95 174.4 179.85 185.3 190.75 196.2 201.65 207.1 212.55 218 223.45 228.9 234.35 239.8 245.25 250.7 256.15 261.6 267.05 272.5 277.95 283.4 288.85 294.3 299.75 305.2 310.65 316.1 321.55"><tspan class="d">-----</tspan><tspan class="b">Q</tspan>A<tspan class="b">YY</tspan>ACW<tspan class="b">Q</tspan>PYY<tspan class="b">T</tspan>G<tspan class="b">T</tspan>S<tspan class="b">T</tspan>DSFILLEIIKQGCEFENTVHKW<tspan class="g">I</tspan>S<tspan class="b">T</tspan>TEA<tspan class="g">L</tspan>A<tspan class="b">Y</tspan><tspan class="g">F</tspan>HCC<tspan class="b">Q</tspan>NP<tspan class="b">T</tspan></text>
<text y="39.7" x="0 5.45 10.9 16.35 21.8 27.25 32.7 38.15 43.6 49.05 54.5 59.95 65.4 70.85 76.3 81.75 87.2 92.65 98.1 103.55 109 114.45 119.9 125.35 130.8 136.25 141.7 147.15 152.6 158.05 163.5 168.95 174.4 179.85 185.3 190.75 196.2 201.65 207.1 212.55 218 223.45 228.9 234.35 239.8 245.25 250.7 256.15 261.6 267.05 272.5 277.95 283.4 288.85 294.3 299.75 305.2 310.65 316.1 321.55"><tspan class="d">-----------------</tspan>G<tspan class="b">T</tspan>S<tspan class="b">T</tspan>DSFILLEIIKQGCEFENTVHKW<tspan class="g">I</tspan>S<tspan class="b">T</tspan>TEA<tspan class="b">Q</tspan>A<tspan class="b">YY</tspan>HCC<tspan class="b">Q</tspan>NP<tspan class="b">T</tspan></text>
</g>
</g>

<g id="cxcr4-6" transform="translate(0,378)">
<rect class="hb" x="397" y="-3.5" width="12" height="7"/>
<rect class="yel" x="409" y="-1.5" width="271" height="3"/>
<line class="dot" x1="681" y1="0" x2="724" y2="0"/>
<text class="num ne" x="391" y="3.6">301</text>
<text class="num" x="728" y="3.6">360</text>
<g class="seq" transform="translate(399.7,0)">
<text y="12.7" x="0 5.45 10.9 16.35 21.8 27.25 32.7 38.15 43.6 49.05 54.5 59.95 65.4 70.85 76.3 81.75 87.2 92.65 98.1 103.55 109 114.45 119.9 125.35 130.8 136.25 141.7 147.15 152.6 158.05 163.5 168.95 174.4 179.85 185.3 190.75 196.2 201.65 207.1 212.55 218 223.45 228.9 234.35 239.8 245.25 250.7 256.15 261.6 267.05 272.5 277.95 283.4 288.85"><tspan class="g">L</tspan>YA<tspan class="g">FL</tspan>GAK<tspan class="g">F</tspan>KTSAQHA<tspan class="g">L</tspan>TS<tspan class="g">V</tspan>SRGSS<tspan class="g">L</tspan>K<tspan class="g">IL</tspan>SKGKRGGHSS<tspan class="g">V</tspan>STESESSSFHSS</text>
<text y="21.7" x="0 5.45 10.9 16.35 21.8 27.25 32.7 38.15 43.6 49.05 54.5 59.95 65.4 70.85 76.3 81.75 87.2 92.65 98.1 103.55 109 114.45 119.9 125.35 130.8 136.25 141.7 147.15 152.6 158.05 163.5 168.95 174.4 179.85 185.3 190.75 196.2 201.65 207.1 212.55 218 223.45 228.9 234.35 239.8 245.25 250.7 256.15 261.6 267.05 272.5 277.95 283.4 288.85"><tspan class="b">Q</tspan>YA<tspan class="b">YQ</tspan>GAK<tspan class="b">Y</tspan>KTSAQHA<tspan class="b">Q</tspan>TS<tspan class="b">T</tspan>SRGSS<tspan class="b">Q</tspan>K<tspan class="b">TQ</tspan>SKGKRGGHSS<tspan class="b">T</tspan>STESESSSFHSS</text>
<text y="30.7" x="0 5.45 10.9 16.35 21.8 27.25 32.7 38.15 43.6 49.05 54.5 59.95 65.4 70.85 76.3 81.75 87.2 92.65 98.1 103.55 109 114.45 119.9 125.35 130.8 136.25 141.7 147.15 152.6 158.05 163.5 168.95 174.4 179.85 185.3 190.75 196.2 201.65 207.1 212.55 218 223.45 228.9 234.35 239.8 245.25 250.7 256.15 261.6 267.05 272.5 277.95 283.4 288.85"><tspan class="b">Q</tspan>YA<tspan class="g">FL</tspan>GAK<tspan class="g">F</tspan>KTSAQHA<tspan class="g">L</tspan>TS<tspan class="g">V</tspan>SRGSS<tspan class="g">L</tspan>K<tspan class="g">IL</tspan>SKGKRGGHSS<tspan class="g">V</tspan>STESESSSFHSS</text>
<text y="39.7" x="0 5.45 10.9 16.35 21.8 27.25 32.7 38.15 43.6 49.05 54.5 59.95 65.4 70.85 76.3 81.75 87.2 92.65 98.1 103.55 109 114.45 119.9 125.35 130.8 136.25 141.7 147.15 152.6 158.05 163.5 168.95 174.4 179.85 185.3 190.75 196.2 201.65 207.1 212.55 218 223.45 228.9 234.35 239.8 245.25 250.7 256.15 261.6 267.05 272.5 277.95 283.4 288.85"><tspan class="b">Q</tspan>YA<tspan class="g">FL</tspan>GAK<tspan class="g">F</tspan>KTSAQHA<tspan class="g">L</tspan>TS<tspan class="g">V</tspan>SRGSS<tspan class="g">L</tspan>K<tspan class="g">IL</tspan>SKGKRGGHSS<tspan class="g">V</tspan>STESESSSFHSS</text>
</g>
</g>
</svg>
